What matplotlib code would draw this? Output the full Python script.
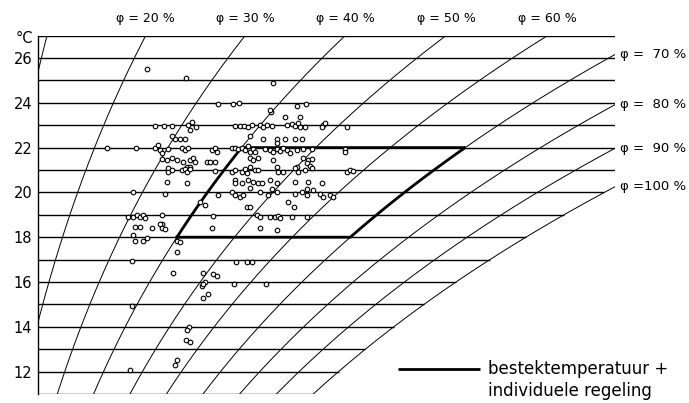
"""
Psychrometric (h-x type) chart: indoor temperature vs. moisture content,
with relative-humidity curves, the 18-22 degC / 40-70 % band and the
measured room conditions as small open circles.
"""

import numpy as np
import matplotlib
matplotlib.use("Agg")
import matplotlib.pyplot as plt

P_ATM = 101.325            # kPa
X_LEFT, X_RIGHT = 2.0, 14.9  # g/kg, edges of the chart
T_MIN, T_MAX = 11, 27        # degC

rh_levels = [0.1, 0.2, 0.3, 0.4, 0.5, 0.6, 0.7, 0.8, 0.9, 1.0]
rh_top = [0.2, 0.3, 0.4, 0.5, 0.6]
rh_top_labels = ["φ = 20 %", "φ = 30 %", "φ = 40 %", "φ = 50 %", "φ = 60 %"]
rh_right = [0.7, 0.8, 0.9, 1.0]
rh_right_labels = ["φ =  70 %", "φ =  80 %", "φ =  90 %", "φ =100 %"]
temp_ticks = [12, 14, 16, 18, 20, 22, 24, 26]

comfort_temp = [18, 22]
comfort_rh = [0.40, 0.70]

# measured points: moisture content (g/kg) and air temperature (degC)
meas_x = [
    4.43, 5.30, 7.25, 6.02, 6.35, 6.49, 7.20, 7.79, 7.99, 7.18, 7.52, 7.85, 8.90,
    3.53, 4.18, 4.12,
    4.61, 4.81, 4.99, 5.35, 5.44, 5.53, 5.39, 6.40, 6.51, 6.60, 6.69, 6.78, 6.96,
    7.02, 7.11, 7.23, 7.56, 7.67, 7.74, 7.81, 7.85, 7.96, 8.37, 8.41, 8.34,
    5.06, 5.17, 5.28, 4.99, 6.73, 7.02, 7.34, 7.52, 7.74, 7.90, 7.34,
    4.61, 4.68, 4.72, 4.77, 4.90, 5.21, 5.28, 5.35, 5.88, 5.95, 6.00, 6.33, 6.40,
    6.47, 6.55, 6.62, 6.69, 6.73, 6.80, 6.85, 7.07, 7.18, 7.25, 7.34, 7.40, 7.47,
    7.56, 7.63, 7.79, 7.92, 8.12, 8.86, 8.86,
    4.77, 4.88, 4.99, 5.10, 5.23, 5.39, 5.46, 5.50, 5.77, 5.84, 5.95, 6.73, 6.80,
    6.91, 7.25, 7.92, 8.03, 8.12, 8.01, 8.08,
    4.90, 5.32, 5.39, 6.73, 7.34, 7.79,
    4.90, 4.99, 5.21, 5.28, 5.32, 5.39, 5.95, 6.33, 6.40, 6.55, 6.62, 6.67, 6.85,
    6.91, 7.36, 7.47, 7.74, 7.81, 7.96, 8.12, 8.90, 8.97, 9.04,
    4.88, 5.32, 6.40, 6.40, 6.55, 6.69, 6.80, 6.91, 7.00, 7.18, 7.34, 7.74, 8.03,
    8.34, 6.73, 7.23, 8.01, 8.14,
    4.83, 6.02, 6.33, 6.40, 6.51, 6.58, 6.96, 7.14, 7.34, 7.74, 7.90, 8.01, 8.30,
    8.37, 8.52, 8.59,
    5.62, 5.73, 6.67, 6.73, 7.58, 7.72,
    4.00, 4.12, 4.21, 4.27, 4.34, 4.38, 4.77, 5.91, 6.89, 6.96, 7.18, 7.29, 7.36,
    7.40, 7.67, 8.01,
    4.77, 4.16, 4.27, 4.54, 4.72, 4.77, 4.83, 5.88, 6.96, 7.34,
    4.12, 4.16, 4.34, 4.43, 5.10, 5.17, 5.10,
    4.09, 6.42, 6.67, 6.78, 5.01, 5.68, 5.91, 6.00, 5.66, 5.73, 5.68, 6.38, 7.09,
    5.68, 5.79, 4.09, 5.37, 5.32, 5.30, 5.39, 5.10, 5.06, 4.05,
]
meas_t = [
    25.5, 25.1, 24.9, 23.95, 23.95, 24.0, 23.6, 23.85, 23.95, 23.7, 23.35, 23.35, 22.9,
    22.0, 22.0, 20.0,
    22.95, 22.95, 22.95, 23.0, 23.15, 22.9, 22.8, 22.95, 22.95, 22.95, 22.9, 23.0, 23.0,
    22.9, 23.0, 22.95, 23.0, 23.05, 22.95, 23.1, 22.9, 22.9, 23.0, 23.1, 22.9,
    22.4, 22.4, 22.4, 22.5, 22.5, 22.4, 22.4, 22.4, 22.4, 22.4, 22.2,
    22.0, 22.1, 21.9, 21.75, 21.95, 22.0, 21.9, 22.0, 21.9, 22.0, 21.8, 22.0, 22.0,
    21.95, 22.0, 21.9, 22.05, 21.8, 21.95, 21.8, 21.95, 21.9, 21.8, 21.95, 21.85, 22.0,
    21.9, 21.75, 21.9, 21.95, 21.95, 21.95, 21.8,
    21.5, 21.45, 21.55, 21.45, 21.35, 21.45, 21.55, 21.35, 21.35, 21.35, 21.35, 21.55, 21.45,
    21.55, 21.45, 21.55, 21.45, 21.5, 21.3, 21.2,
    21.1, 21.15, 21.15, 21.15, 21.15, 21.15,
    20.9, 21.0, 21.0, 21.05, 20.9, 21.05, 20.95, 20.9, 21.0, 20.9, 21.05, 20.85, 21.0,
    21.0, 20.9, 20.9, 21.1, 20.9, 21.0, 21.1, 20.9, 21.0, 20.95,
    20.45, 20.4, 20.55, 20.4, 20.4, 20.55, 20.45, 20.4, 20.4, 20.55, 20.4, 20.45, 20.45,
    20.4, 20.2, 20.15, 20.15, 20.1,
    19.95, 19.9, 20.0, 19.9, 19.8, 19.9, 20.0, 19.9, 20.0, 19.95, 20.0, 19.9, 19.95,
    19.8, 19.9, 19.8,
    19.55, 19.45, 19.35, 19.35, 19.55, 19.35,
    18.9, 18.9, 19.0, 18.9, 19.0, 18.85, 19.0, 18.95, 19.0, 18.9, 18.9, 18.9, 18.95,
    18.85, 18.9, 18.9,
    18.6, 18.45, 18.45, 18.4, 18.6, 18.4, 18.35, 18.4, 18.4, 18.3,
    18.1, 17.85, 17.85, 17.95, 17.85, 17.8, 17.35,
    16.95, 16.9, 16.9, 16.9, 16.4, 16.4, 16.35, 16.25, 15.8, 16.0, 15.9, 15.9, 15.9,
    15.3, 15.45, 14.95, 14.0, 13.85, 13.4, 13.3, 12.5, 12.3, 12.05,
]


def moisture(phi, t):
    """Moisture content in g/kg dry air for rel. humidity phi at t degC."""
    pws = 0.61094 * np.exp(17.625 * t / (t + 243.04))
    pw = phi * pws
    return 622.0 * pw / (P_ATM - pw)


fig = plt.figure(figsize=(6.89, 4.03), dpi=100)
# axes placed in pixels: left 38, right 615, top 35.6, bottom 394
ax = fig.add_axes([38.4 / 689, 9.0 / 403, 576.6 / 689, 358.4 / 403])
ax.set_xlim(X_LEFT, X_RIGHT)
ax.set_ylim(T_MIN, T_MAX)

t_fine = np.linspace(T_MIN, T_MAX, 400)

# isotherms, ending at the right edge or at the saturation curve
for t in range(T_MIN, T_MAX + 1):
    x_end = min(X_RIGHT, moisture(1.0, t))
    ax.plot([X_LEFT, x_end], [t, t], color="black", lw=1.0, solid_capstyle="butt")

# relative humidity curves
for phi in rh_levels:
    ax.plot(moisture(phi, t_fine), t_fine, color="black", lw=0.7)

# comfort band (thick outline)
t_band = np.linspace(comfort_temp[0], comfort_temp[1], 50)
lo, hi = comfort_rh
band_x = np.concatenate([moisture(lo, t_band), moisture(hi, t_band[::-1]),
                         [moisture(lo, t_band[0])]])
band_t = np.concatenate([t_band, t_band[::-1], [t_band[0]]])
ax.plot(band_x, band_t, color="black", lw=2.0, solid_joinstyle="miter")

# measurements
ax.plot(meas_x, meas_t, "o", ms=3.3, mfc="white", mec="black", mew=0.8,
        linestyle="none", zorder=5)

# rh labels along the top
for phi, lab in zip(rh_top, rh_top_labels):
    ax.annotate(lab, xy=(moisture(phi, T_MAX), T_MAX), xytext=(0, 12.5),
                textcoords="offset points", ha="center", va="center",
                fontsize=9, annotation_clip=False)

# rh labels on the right edge
for phi, lab in zip(rh_right, rh_right_labels):
    xs = moisture(phi, t_fine)
    t_end = np.interp(X_RIGHT, xs, t_fine)
    ax.annotate(lab, xy=(X_RIGHT, t_end), xytext=(3.5, 0),
                textcoords="offset points", ha="left", va="center",
                fontsize=9.5, annotation_clip=False)

# axes styling
for side in ["top", "right", "bottom"]:
    ax.spines[side].set_visible(False)
ax.spines["left"].set_linewidth(1.0)
ax.set_xticks([])
ax.set_yticks(temp_ticks)
ax.set_yticklabels([str(v) for v in temp_ticks], fontsize=10.5)
ax.tick_params(axis="y", length=0, pad=4.5)
ax.text(-0.009, 0.992, "°C", transform=ax.transAxes, ha="right", va="center",
        fontsize=10.5)

# legend drawn by hand
ax.plot([0.6237, 0.7656], [0.0698, 0.0698], transform=ax.transAxes,
        color="black", lw=2.0, clip_on=False, solid_capstyle="butt")
ax.text(0.7793, 0.0698, "bestektemperatuur +", transform=ax.transAxes,
        ha="left", va="center", fontsize=12)
ax.text(0.7793, 0.008, "individuele regeling", transform=ax.transAxes,
        ha="left", va="center", fontsize=12)

fig.savefig("out.png", dpi=100)
